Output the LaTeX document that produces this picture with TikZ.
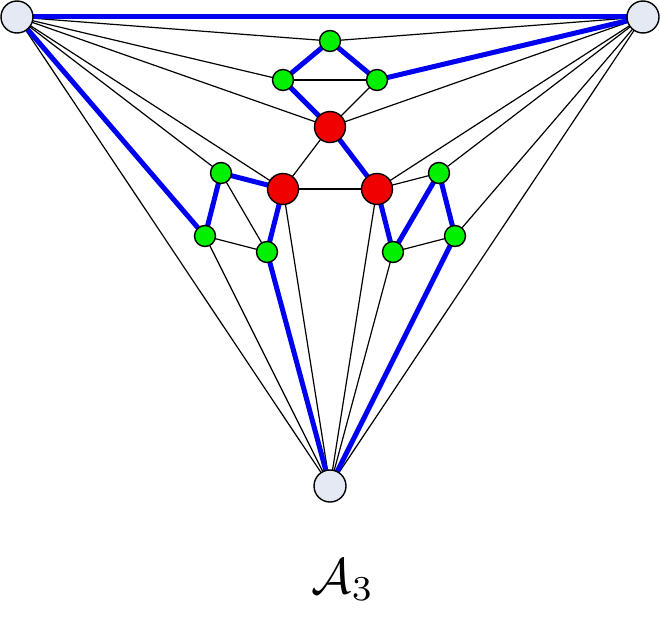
\documentclass[tikz,border=0pt]{standalone}
\usepackage{amsmath,amssymb}
\usetikzlibrary{calc}
\pgfdeclarelayer{bg}
\pgfsetlayers{bg,main}
\definecolor{outerfill}{RGB}{228,233,243}
\definecolor{vgreen}{RGB}{0,240,0}
\definecolor{vred}{RGB}{240,0,0}
\definecolor{vblue}{RGB}{0,0,240}
\tikzset{
  vtx/.style={circle,draw,line width=1.4pt,inner sep=0pt},
  outer/.style={vtx,fill=outerfill,minimum size=32pt},
  hub/.style={vtx,fill=vred,minimum size=31pt},
  sat/.style={vtx,fill=vgreen,minimum size=21pt},
  plain/.style={line width=1.2pt},
  route/.style={vblue,line width=5pt}
}
\begin{document}
\begin{tikzpicture}[x=1pt,y=-1pt]
\useasboundingbox (0,0) rectangle (660,642);
% outer vertices
\node[outer] (tl) at (17,17) {};
\node[outer] (tr) at (643,17) {};
\node[outer] (b) at (330,486) {};
% red triangle
\node[hub] (r1) at (330,127) {};
\node[hub] (r2) at (283,189) {};
\node[hub] (r3) at (377,189) {};
% green triangles
\node[sat] (t1) at (330,41) {};
\node[sat] (t2) at (283,80) {};
\node[sat] (t3) at (377,80) {};
\node[sat] (l1) at (221,173) {};
\node[sat] (l2) at (205,236) {};
\node[sat] (l3) at (267,252) {};
\node[sat] (m1) at (439,173) {};
\node[sat] (m2) at (455,236) {};
\node[sat] (m3) at (393,252) {};
\begin{pgfonlayer}{bg}
% black edges
\foreach \u/\v in {tl/t1,tl/t2,tl/r1,tl/r2,tl/l1,tl/b,
  tr/t1,tr/r1,tr/r3,tr/m1,tr/m2,tr/b,
  b/l2,b/r2,b/r3,b/m3,
  t2/t3,t3/r1,r1/r2,r2/r3,
  l1/l3,l2/l3,m1/r3,m2/m3}
  \draw[plain] (\u.center) -- (\v.center);
% blue edges
\foreach \u/\v in {tl/tr,tl/l2,tr/t3,b/l3,b/m2,
  t1/t2,t1/t3,t2/r1,r1/r3,
  l1/r2,l1/l2,l3/r2,m1/m3,m1/m2,m3/r3}
  \draw[route] (\u.center) -- (\v.center);
\end{pgfonlayer}
\node[scale=5] (lab) at (343,580) {$\mathcal{A}_3$};
\end{tikzpicture}
\end{document}
